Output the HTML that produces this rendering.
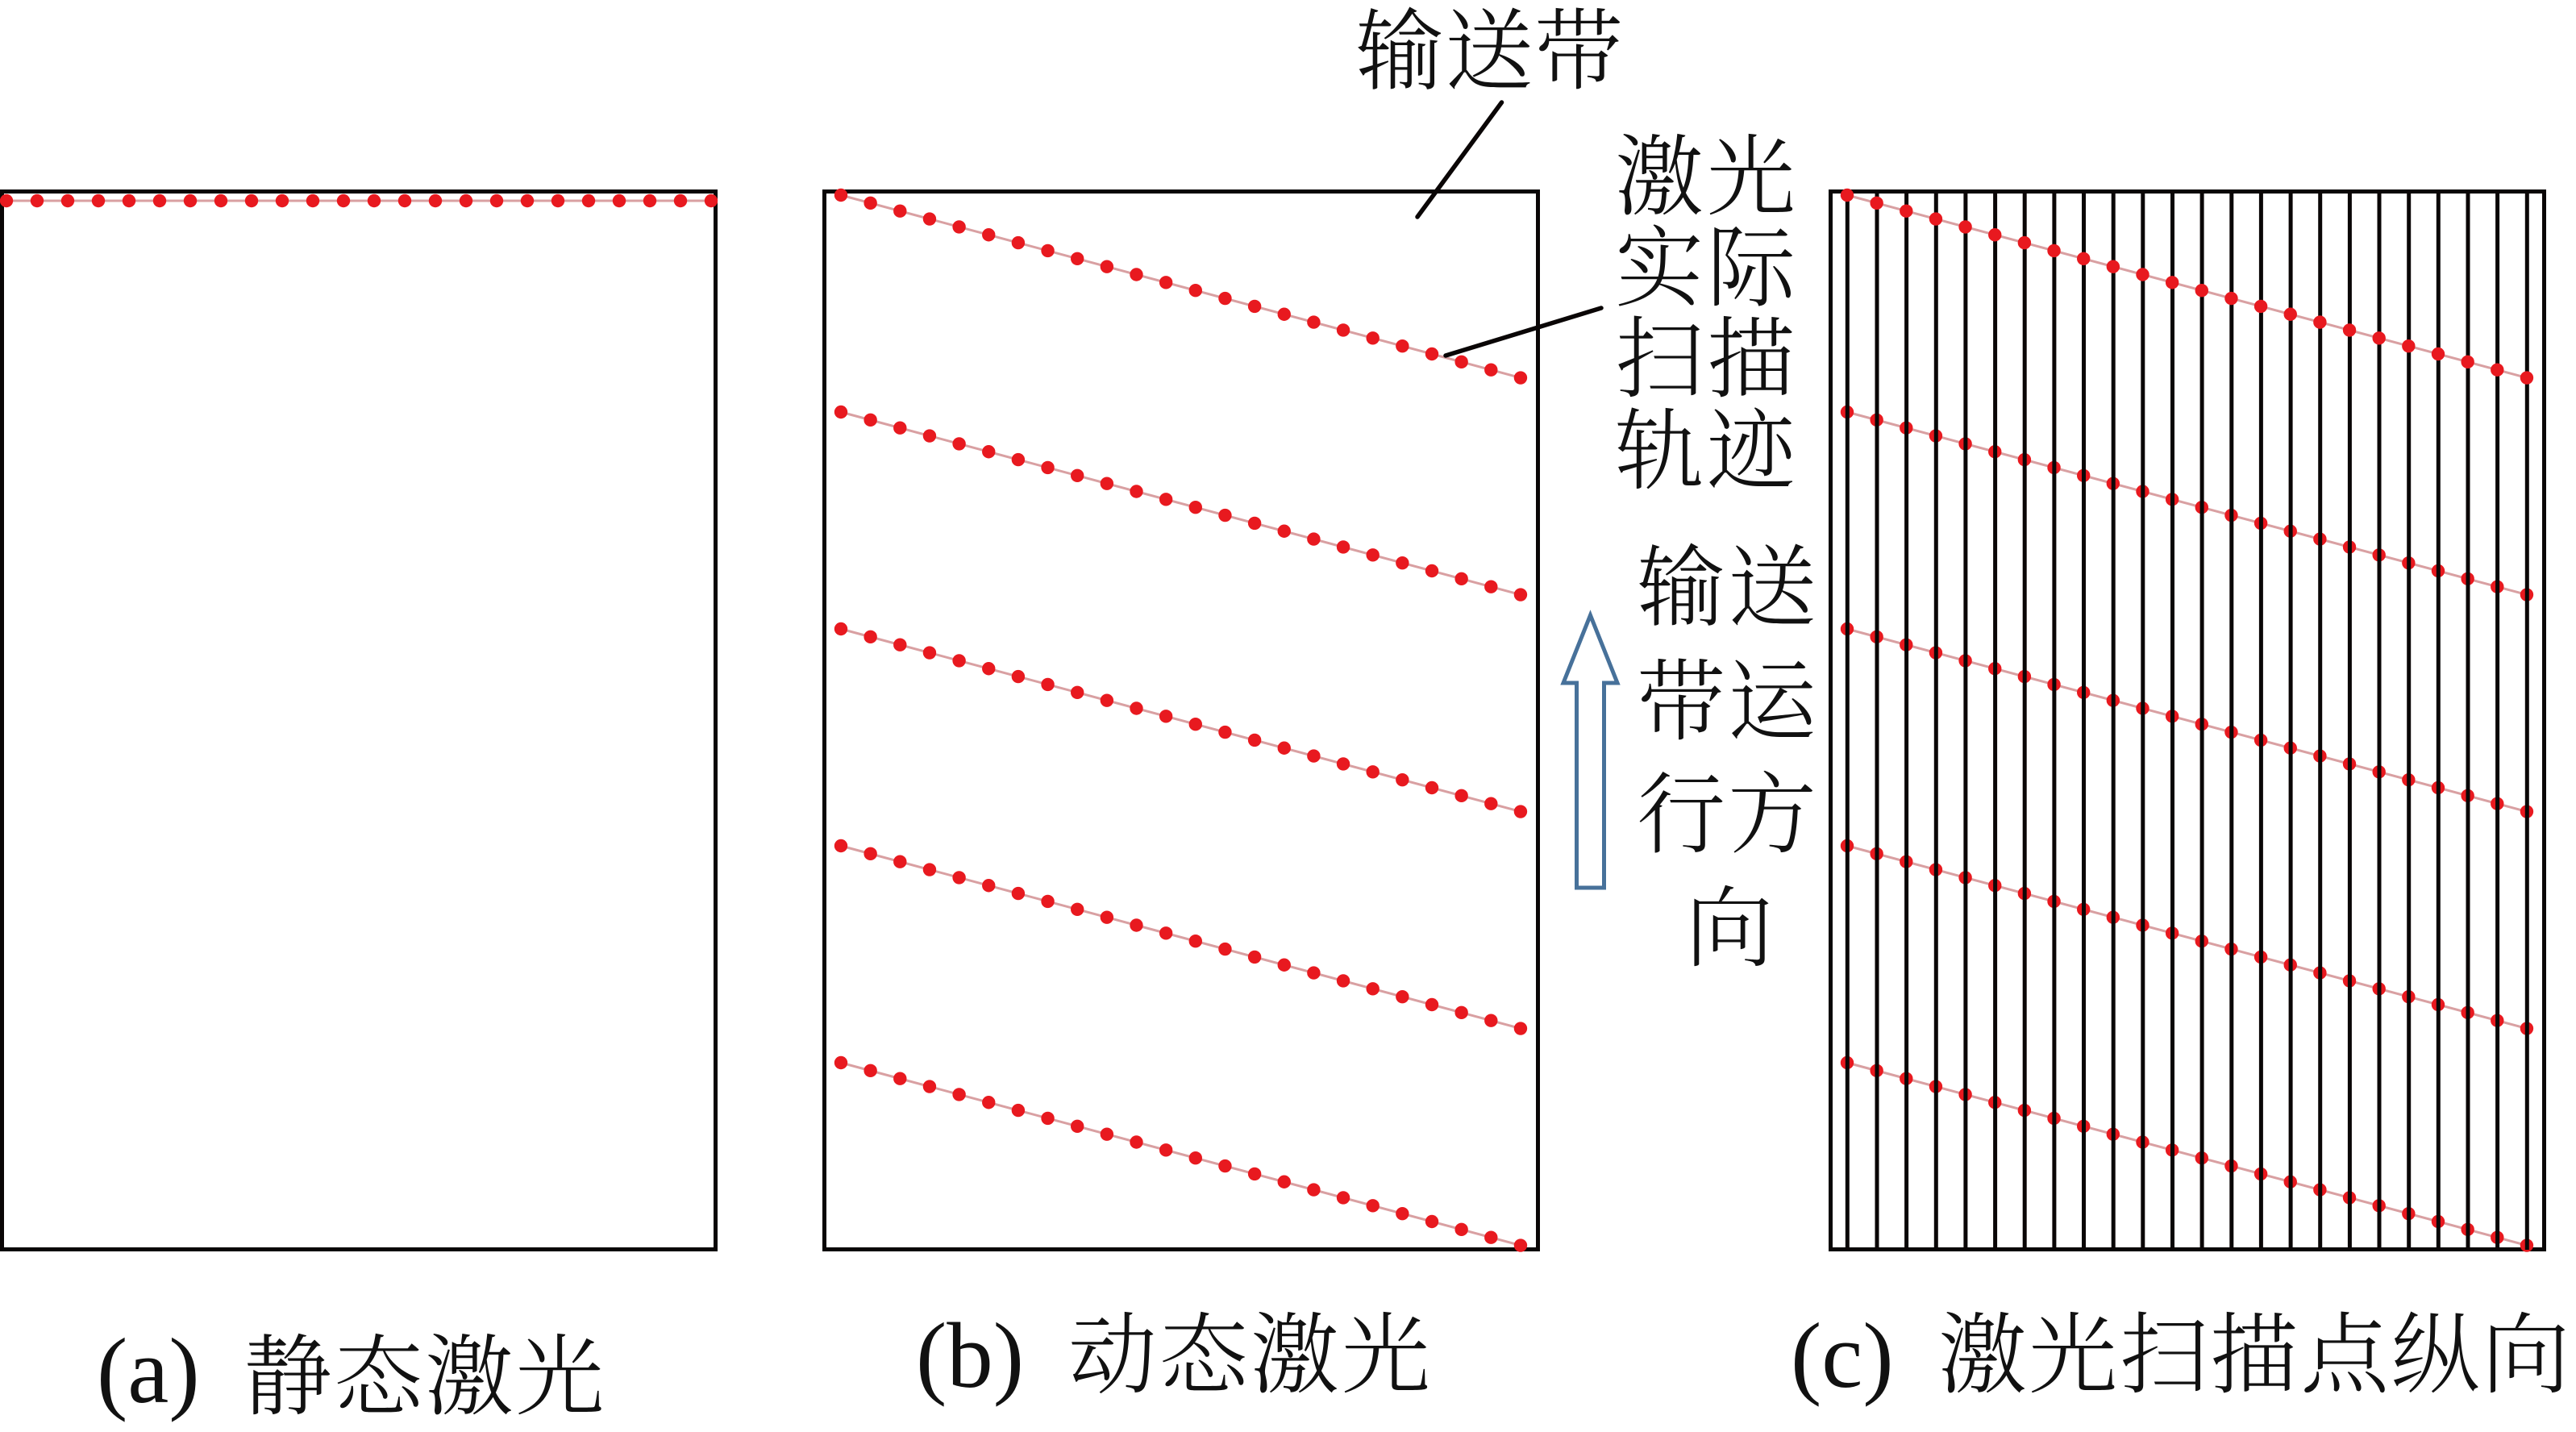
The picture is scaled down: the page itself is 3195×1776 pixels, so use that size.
<!DOCTYPE html>
<html><head><meta charset="utf-8"><style>
html,body{margin:0;padding:0;background:#fff}
svg{display:block}
.c{font-family:"Liberation Serif","Noto Serif CJK SC",serif;font-size:110px;font-weight:300;fill:#111}
.l{font-family:"Liberation Serif",serif;font-size:115px;fill:#111}
</style></head><body>
<svg width="3195" height="1776" viewBox="0 0 3195 1776" xmlns="http://www.w3.org/2000/svg">
<defs>
<g id="dots" fill="#e8191f">
<circle cx="0" cy="0" r="8.2"/><circle cx="36.65" cy="9.85" r="8.2"/><circle cx="73.3" cy="19.7" r="8.2"/><circle cx="109.95" cy="29.55" r="8.2"/><circle cx="146.6" cy="39.4" r="8.2"/><circle cx="183.25" cy="49.25" r="8.2"/><circle cx="219.9" cy="59.1" r="8.2"/><circle cx="256.55" cy="68.95" r="8.2"/><circle cx="293.2" cy="78.8" r="8.2"/><circle cx="329.85" cy="88.65" r="8.2"/><circle cx="366.5" cy="98.5" r="8.2"/><circle cx="403.15" cy="108.35" r="8.2"/><circle cx="439.8" cy="118.2" r="8.2"/><circle cx="476.45" cy="128.05" r="8.2"/><circle cx="513.1" cy="137.9" r="8.2"/><circle cx="549.75" cy="147.75" r="8.2"/><circle cx="586.4" cy="157.6" r="8.2"/><circle cx="623.05" cy="167.45" r="8.2"/><circle cx="659.7" cy="177.3" r="8.2"/><circle cx="696.35" cy="187.15" r="8.2"/><circle cx="733" cy="197" r="8.2"/><circle cx="769.65" cy="206.85" r="8.2"/><circle cx="806.3" cy="216.7" r="8.2"/><circle cx="842.95" cy="226.55" r="8.2"/>
</g>
<g id="row"><line x1="0" y1="0" x2="842.95" y2="226.55" stroke="#d9a0a2" stroke-width="3"/><use href="#dots"/></g>
</defs>
<rect width="3195" height="1776" fill="#fff"/>

<!-- Frames -->
<g fill="none" stroke="#0a0606" stroke-width="5">
<rect x="2.5" y="237.5" width="885" height="1312"/>
<rect x="1022.5" y="237.5" width="885" height="1312"/>
<rect x="2270.5" y="237.5" width="885" height="1312"/>
</g>

<!-- Panel A dots -->
<line x1="8" y1="249" x2="882" y2="249" stroke="#d9a0a2" stroke-width="3"/>
<g fill="#e8191f">
<circle cx="8" cy="249" r="8.2"/><circle cx="46" cy="249" r="8.2"/><circle cx="84" cy="249" r="8.2"/><circle cx="122" cy="249" r="8.2"/><circle cx="160" cy="249" r="8.2"/><circle cx="198" cy="249" r="8.2"/><circle cx="236" cy="249" r="8.2"/><circle cx="274" cy="249" r="8.2"/><circle cx="312" cy="249" r="8.2"/><circle cx="350" cy="249" r="8.2"/><circle cx="388" cy="249" r="8.2"/><circle cx="426" cy="249" r="8.2"/><circle cx="464" cy="249" r="8.2"/><circle cx="502" cy="249" r="8.2"/><circle cx="540" cy="249" r="8.2"/><circle cx="578" cy="249" r="8.2"/><circle cx="616" cy="249" r="8.2"/><circle cx="654" cy="249" r="8.2"/><circle cx="692" cy="249" r="8.2"/><circle cx="730" cy="249" r="8.2"/><circle cx="768" cy="249" r="8.2"/><circle cx="806" cy="249" r="8.2"/><circle cx="844" cy="249" r="8.2"/><circle cx="882" cy="249" r="8.2"/>
</g>

<!-- Panel B rows -->
<use href="#row" x="1043" y="242"/>
<use href="#row" x="1043" y="511"/>
<use href="#row" x="1043" y="780"/>
<use href="#row" x="1043" y="1049"/>
<use href="#row" x="1043" y="1318"/>

<!-- Panel C rows under lines -->
<use href="#row" x="2291" y="511"/>
<use href="#row" x="2291" y="780"/>
<use href="#row" x="2291" y="1049"/>
<use href="#row" x="2291" y="1318"/>

<!-- Panel C vertical lines -->
<g stroke="#0a0606" stroke-width="5">
<line x1="2291.3" x2="2291.3" y1="238" y2="1550"/><line x1="2328" x2="2328" y1="238" y2="1550"/><line x1="2364.6" x2="2364.6" y1="238" y2="1550"/><line x1="2401.3" x2="2401.3" y1="238" y2="1550"/><line x1="2437.9" x2="2437.9" y1="238" y2="1550"/><line x1="2474.6" x2="2474.6" y1="238" y2="1550"/><line x1="2511.2" x2="2511.2" y1="238" y2="1550"/><line x1="2547.9" x2="2547.9" y1="238" y2="1550"/><line x1="2584.5" x2="2584.5" y1="238" y2="1550"/><line x1="2621.2" x2="2621.2" y1="238" y2="1550"/><line x1="2657.8" x2="2657.8" y1="238" y2="1550"/><line x1="2694.5" x2="2694.5" y1="238" y2="1550"/><line x1="2731.1" x2="2731.1" y1="238" y2="1550"/><line x1="2767.8" x2="2767.8" y1="238" y2="1550"/><line x1="2804.4" x2="2804.4" y1="238" y2="1550"/><line x1="2841.1" x2="2841.1" y1="238" y2="1550"/><line x1="2877.7" x2="2877.7" y1="238" y2="1550"/><line x1="2914.4" x2="2914.4" y1="238" y2="1550"/><line x1="2951" x2="2951" y1="238" y2="1550"/><line x1="2987.7" x2="2987.7" y1="238" y2="1550"/><line x1="3024.3" x2="3024.3" y1="238" y2="1550"/><line x1="3061" x2="3061" y1="238" y2="1550"/><line x1="3097.6" x2="3097.6" y1="238" y2="1550"/><line x1="3134.3" x2="3134.3" y1="238" y2="1550"/>
</g>
<!-- Panel C top row above lines -->
<use href="#row" x="2291" y="242"/>

<!-- Leaders -->
<g stroke="#0a0606" stroke-width="5.5" stroke-linecap="round">
<line x1="1862.5" y1="127" x2="1758" y2="269"/>
<line x1="1986" y1="382" x2="1793" y2="441"/>
</g>

<!-- Arrow -->
<polygon points="1972.5,763 2006,847 1989.5,847 1989.5,1101 1955.5,1101 1955.5,847 1939,847" fill="#fff" stroke="#47719a" stroke-width="5"/>

<!-- Labels -->
<text class="c" x="1681" y="102" letter-spacing="1">输送带</text>
<text class="c" x="2003" y="258" letter-spacing="4">激光</text>
<text class="c" x="2003" y="371" letter-spacing="4">实际</text>
<text class="c" x="2003" y="484" letter-spacing="4">扫描</text>
<text class="c" x="2003" y="598" letter-spacing="4">轨迹</text>
<text class="c" x="2030" y="767" letter-spacing="3">输送</text>
<text class="c" x="2030" y="909" letter-spacing="3">带运</text>
<text class="c" x="2030" y="1049" letter-spacing="3">行方</text>
<text class="c" x="2090" y="1190">向</text>

<text class="l" x="120" y="1739">(a)</text>
<text class="c" x="302" y="1746" letter-spacing="2.5">静态激光</text>
<text class="l" x="1136" y="1720">(b)</text>
<text class="c" x="1325" y="1719" letter-spacing="3">动态激光</text>
<text class="l" x="2221" y="1720">(c)</text>
<text class="c" x="2404" y="1719" letter-spacing="2.3">激光扫描点纵向</text>
</svg>
</body></html>
